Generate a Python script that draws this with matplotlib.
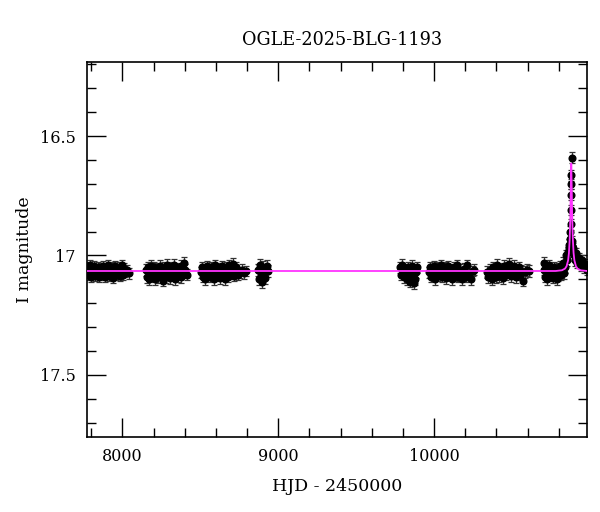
import matplotlib
matplotlib.use("Agg")
import matplotlib.pyplot as plt
from matplotlib.ticker import MultipleLocator

plt.rcParams["font.family"] = ["DejaVu Serif"]

# photometry, one list per observing season (HJD - 2450000, I mag)
t_s1 = [7778, 7784, 7790, 7797, 7803, 7810, 7816, 7822, 7829, 7835, 7842, 7848, 7855, 7861,
        7868, 7874, 7880, 7887, 7893, 7900, 7906, 7913, 7919, 7926, 7932, 7939, 7945, 7952,
        7958, 7965, 7971, 7978, 7984, 7991, 7997, 8004, 8010, 8017, 8030, 8045]
m_s1 = [17.05, 17.08, 17.04, 17.09, 17.06, 17.07, 17.045, 17.085, 17.06, 17.075, 17.05, 17.09,
        17.07, 17.055, 17.08, 17.045, 17.065, 17.09, 17.055, 17.075, 17.04, 17.085, 17.06, 17.07,
        17.05, 17.095, 17.065, 17.045, 17.08, 17.06, 17.075, 17.05, 17.085, 17.065, 17.04, 17.08,
        17.055, 17.07, 17.06, 17.075]

t_s2 = [8152, 8158, 8165, 8171, 8178, 8184, 8191, 8197, 8204, 8210, 8217, 8223, 8230, 8236,
        8243, 8249, 8256, 8262, 8269, 8275, 8282, 8288, 8295, 8301, 8308, 8314, 8321, 8327,
        8334, 8340, 8347, 8353, 8360, 8366, 8373, 8379, 8388, 8396, 8404, 8412]
m_s2 = [17.06, 17.09, 17.05, 17.1, 17.07, 17.045, 17.085, 17.065, 17.05, 17.1, 17.075, 17.055,
        17.09, 17.06, 17.045, 17.08, 17.07, 17.105, 17.05, 17.065, 17.09, 17.04, 17.075, 17.06,
        17.095, 17.05, 17.08, 17.065, 17.04, 17.1, 17.07, 17.055, 17.085, 17.06, 17.045, 17.09,
        17.07, 17.03, 17.06, 17.08]

t_s3 = [8505, 8512, 8519, 8526, 8533, 8540, 8547, 8554, 8561, 8568, 8575, 8582, 8589, 8596,
        8603, 8610, 8617, 8624, 8631, 8638, 8645, 8652, 8659, 8666, 8673, 8680, 8687, 8694,
        8701, 8708, 8715, 8722, 8730, 8740, 8752, 8765, 8780, 8795]
m_s3 = [17.07, 17.05, 17.09, 17.06, 17.1, 17.045, 17.075, 17.06, 17.09, 17.05, 17.08, 17.065,
        17.1, 17.04, 17.07, 17.085, 17.055, 17.095, 17.06, 17.045, 17.08, 17.07, 17.1, 17.05,
        17.065, 17.09, 17.04, 17.075, 17.06, 17.035, 17.085, 17.065, 17.05, 17.08, 17.07, 17.06,
        17.075, 17.065]

t_s4 = [8872, 8878, 8884, 8890, 8896, 8903, 8910, 8918, 8926, 8934]
m_s4 = [17.06, 17.1, 17.04, 17.08, 17.11, 17.05, 17.075, 17.095, 17.045, 17.065]

t_s5 = [9782, 9788, 9794, 9800, 9806, 9812, 9818, 9824, 9830, 9836, 9842, 9848, 9854, 9860,
        9866, 9872, 9878, 9884, 9890]
m_s5 = [17.05, 17.08, 17.04, 17.065, 17.09, 17.06, 17.075, 17.1, 17.05, 17.085, 17.07, 17.11,
        17.06, 17.045, 17.09, 17.115, 17.1, 17.07, 17.05]

t_s6 = [9965, 9972, 9979, 9986, 9993, 10000, 10007, 10014, 10021, 10028, 10035, 10042, 10049,
        10056, 10063, 10070, 10077, 10084, 10091, 10098, 10105, 10112, 10119, 10126, 10133,
        10140, 10147, 10154, 10161, 10168, 10175, 10182, 10190, 10198, 10206, 10214, 10224,
        10236, 10248, 10256]
m_s6 = [17.07, 17.05, 17.09, 17.06, 17.08, 17.045, 17.1, 17.065, 17.05, 17.085, 17.07, 17.04,
        17.09, 17.06, 17.075, 17.05, 17.095, 17.065, 17.045, 17.08, 17.06, 17.1, 17.07, 17.05,
        17.085, 17.065, 17.04, 17.09, 17.075, 17.06, 17.08, 17.1, 17.055, 17.07, 17.09, 17.04,
        17.075, 17.1, 17.065, 17.06]

t_s7 = [10342, 10349, 10356, 10363, 10370, 10377, 10384, 10391, 10398, 10405, 10412, 10419,
        10426, 10433, 10440, 10447, 10454, 10461, 10468, 10475, 10482, 10489, 10496, 10503,
        10510, 10517, 10524, 10531, 10538, 10545, 10552, 10560, 10569, 10580, 10595, 10612]
m_s7 = [17.07, 17.09, 17.06, 17.08, 17.1, 17.05, 17.075, 17.065, 17.09, 17.04, 17.07, 17.085,
        17.055, 17.075, 17.095, 17.045, 17.065, 17.08, 17.05, 17.07, 17.035, 17.06, 17.085, 17.065,
        17.045, 17.075, 17.09, 17.06, 17.07, 17.05, 17.08, 17.065, 17.105, 17.07, 17.06, 17.065]

t_s8 = [10702, 10708, 10714, 10720, 10726, 10732, 10738, 10744, 10750, 10756, 10762, 10768,
        10774, 10780, 10786, 10792, 10798, 10804, 10810, 10816, 10822, 10828, 10834, 10840,
        10846, 10852, 10858, 10864, 10868, 10872, 10875, 10877, 10878, 10879, 10880, 10881,
        10882, 10884, 10887, 10890, 10894, 10899, 10905, 10912, 10920, 10930, 10940, 10950,
        10960, 10970, 10978]
m_s8 = [17.06, 17.03, 17.09, 17.05, 17.1, 17.07, 17.04, 17.085, 17.06, 17.075, 17.095, 17.05,
        17.08, 17.065, 17.1, 17.055, 17.085, 17.07, 17.045, 17.08, 17.06, 17.03, 17.075, 17.05,
        17.0, 17.02, 16.985, 16.97, 16.955, 16.93, 16.9, 16.87, 16.81, 16.745, 16.7, 16.665,
        16.59, 16.96, 16.94, 16.98, 16.97, 17.0, 17.02, 16.99, 17.03, 17.01, 17.045, 17.02,
        17.05, 17.035, 17.06]

err_s = [0.022, 0.024, 0.023, 0.025, 0.024, 0.023, 0.024, 0.022]

# microlensing model
t_model = [7773, 10780, 10820, 10840, 10850, 10860, 10865, 10870, 10874, 10877, 10880,
           10883, 10886, 10890, 10895, 10900, 10910, 10920, 10940, 10981]
m_model = [17.065, 17.065, 17.062, 17.055, 17.045, 17.02, 16.99, 16.93, 16.84, 16.72, 16.615,
           16.72, 16.84, 16.93, 16.99, 17.02, 17.045, 17.055, 17.062, 17.065]

seasons = [(t_s1, m_s1), (t_s2, m_s2), (t_s3, m_s3), (t_s4, m_s4),
           (t_s5, m_s5), (t_s6, m_s6), (t_s7, m_s7), (t_s8, m_s8)]

fig = plt.figure(figsize=(6, 5.12), dpi=100)
ax = fig.add_axes([87 / 600, 1 - 437 / 512, 500 / 600, 375 / 512])

for (t, m), e in zip(seasons, err_s):
    ax.errorbar(t, m, yerr=e, fmt="o", color="black", ecolor="#333333", ms=4.8,
                elinewidth=0.9, capsize=2.5, capthick=0.9, zorder=2)

ax.plot(t_model, m_model, color="#ff33ff", lw=1.3, zorder=3)

ax.set_xlim(7773, 10981)
ax.set_ylim(17.76, 16.19)

ax.xaxis.set_major_locator(MultipleLocator(1000))
ax.xaxis.set_minor_locator(MultipleLocator(200))
ax.yaxis.set_major_locator(MultipleLocator(0.5))
ax.yaxis.set_minor_locator(MultipleLocator(0.1))
ax.set_yticks([16.5, 17.0, 17.5])
ax.set_yticklabels(["16.5", "17", "17.5"])
ax.tick_params(which="both", direction="in", top=True, right=True, labelsize=11.5, width=1)
ax.tick_params(which="major", length=13.5, pad=8)
ax.tick_params(which="minor", length=6.5)
for s in ax.spines.values():
    s.set_linewidth(1.2)

ax.set_xlabel("HJD - 2450000", fontsize=12.5, labelpad=9)
ax.set_ylabel("I magnitude", fontsize=12.5, labelpad=5)
fig.text(342 / 600, 1 - 40 / 512, "OGLE-2025-BLG-1193", fontsize=12.7, ha="center", va="center")

fig.savefig("out.png", dpi=100)
